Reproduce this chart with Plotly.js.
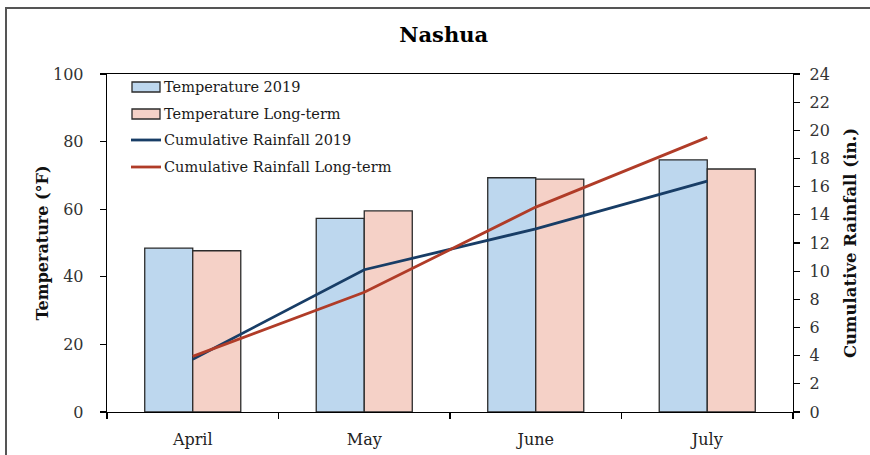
<!DOCTYPE html>
<html>
<head>
<meta charset="utf-8">
<script src="https://cdn.plot.ly/plotly-3.0.1.min.js"></script>
<style>
html,body{margin:0;padding:0;background:#fff;}
#wrap{position:relative;width:870px;height:455px;overflow:hidden;}
#chart{width:870px;height:455px;}
#frame{position:absolute;left:5px;top:7px;width:900px;height:500px;border:2px solid #555;pointer-events:none;}
</style>
</head>
<body>
<div id="wrap"><div id="chart"></div><div id="frame"></div></div>
<script>
// ---- data ----
const months = ["April", "May", "June", "July"];
const temp2019 = [48.5, 57.3, 69.3, 74.6];
const tempLongTerm = [47.7, 59.5, 68.9, 71.9];
const rain2019 = [3.75, 10.1, 13.0, 16.4];
const rainLongTerm = [3.95, 8.5, 14.55, 19.5];
const seriesNames = ["Temperature 2019", "Temperature Long-term", "Cumulative Rainfall 2019", "Cumulative Rainfall Long-term"];
const tempTicks = [0, 20, 40, 60, 80, 100];
const rainTicks = [0, 2, 4, 6, 8, 10, 12, 14, 16, 18, 20, 22, 24];

// ---- styles ----
const FONT = "'DejaVu Serif', 'Liberation Serif', serif";
const blueFill = "#BDD7EE", pinkFill = "#F5D1C7";
const navy = "#183D66", rust = "#B03C28";
const outline = "#2b2b2b";

const traces = [
  {type: "bar", name: seriesNames[0], x: months, y: temp2019,
   marker: {color: blueFill, line: {color: outline, width: 1.3}}, showlegend: false},
  {type: "bar", name: seriesNames[1], x: months, y: tempLongTerm,
   marker: {color: pinkFill, line: {color: outline, width: 1.3}}, showlegend: false},
  {type: "scatter", mode: "lines", name: seriesNames[2], x: months, y: rain2019, yaxis: "y2",
   line: {color: navy, width: 2.8}, showlegend: false},
  {type: "scatter", mode: "lines", name: seriesNames[3], x: months, y: rainLongTerm, yaxis: "y2",
   line: {color: rust, width: 2.8}, showlegend: false}
];

// plot area in pixels
const L = 107, R = 793, T = 74, B = 412;
const W = 870, H = 455;
const px = v => (v - L) / (R - L);
const py = v => (B - v) / (B - T);

// custom legend
const shapes = [];
const annotations = [];
const legendY = [87, 114, 140, 167];
const fills = [blueFill, pinkFill];
const lineCols = [navy, rust];
for (let i = 0; i < 4; i++) {
  const yc = legendY[i];
  if (i < 2) {
    shapes.push({type: "rect", xref: "paper", yref: "paper",
      x0: px(132), x1: px(160), y0: py(yc - 5), y1: py(yc + 5),
      fillcolor: fills[i], line: {color: outline, width: 1.3}});
  } else {
    shapes.push({type: "line", xref: "paper", yref: "paper",
      x0: px(131), x1: px(161), y0: py(yc), y1: py(yc),
      line: {color: lineCols[i - 2], width: 2.8}});
  }
  annotations.push({xref: "paper", yref: "paper", x: px(162), y: py(yc),
    xanchor: "left", yanchor: "middle", showarrow: false,
    text: seriesNames[i], font: {family: FONT, size: 14.5, color: "#1a1a1a"}});
}

const layout = {
  width: W, height: H,
  margin: {l: L, r: W - R, t: T, b: H - B, pad: 0},
  paper_bgcolor: "#fff", plot_bgcolor: "#fff",
  title: {text: "<b>Nashua</b>", x: 0.51, xanchor: "center", y: 1 - 35 / H, yanchor: "middle",
    font: {family: FONT, size: 21, color: "#000"}},
  barmode: "group", bargap: 0.44, bargroupgap: 0,
  font: {family: FONT, color: "#333"},
  xaxis: {type: "category", showline: true, linecolor: "#000", linewidth: 1.3, mirror: true,
    ticks: "outside", tickson: "boundaries", ticklen: 6, tickcolor: "#000", tickwidth: 1.2,
    showgrid: false, zeroline: false, ticklabelstandoff: 12,
    tickfont: {family: FONT, size: 16, color: "#222"}},
  yaxis: {range: [0, 100], tickvals: tempTicks, showline: true, linecolor: "#000", linewidth: 1.3,
    ticks: "outside", ticklen: 6, tickcolor: "#000", tickwidth: 1.2, showgrid: false, zeroline: false,
    tickfont: {family: FONT, size: 16, color: "#333"}, ticklabelstandoff: 13,
    title: {text: "<b>Temperature (°F)</b>", standoff: 0, font: {family: FONT, size: 16, color: "#111"}}},
  yaxis2: {range: [0, 24], tickvals: rainTicks, overlaying: "y", side: "right",
    showline: true, linecolor: "#000", linewidth: 1.3,
    ticks: "outside", ticklen: 6, tickcolor: "#000", tickwidth: 1.2, showgrid: false, zeroline: false,
    tickfont: {family: FONT, size: 16, color: "#333"}, ticklabelstandoff: 6,
    title: {text: "<b>Cumulative Rainfall (in.)</b>", standoff: 15, font: {family: FONT, size: 16.5, color: "#111"}}},
  shapes: shapes,
  annotations: annotations
};

Plotly.newPlot("chart", traces, layout, {displayModeBar: false, staticPlot: true});
</script>
</body>
</html>
